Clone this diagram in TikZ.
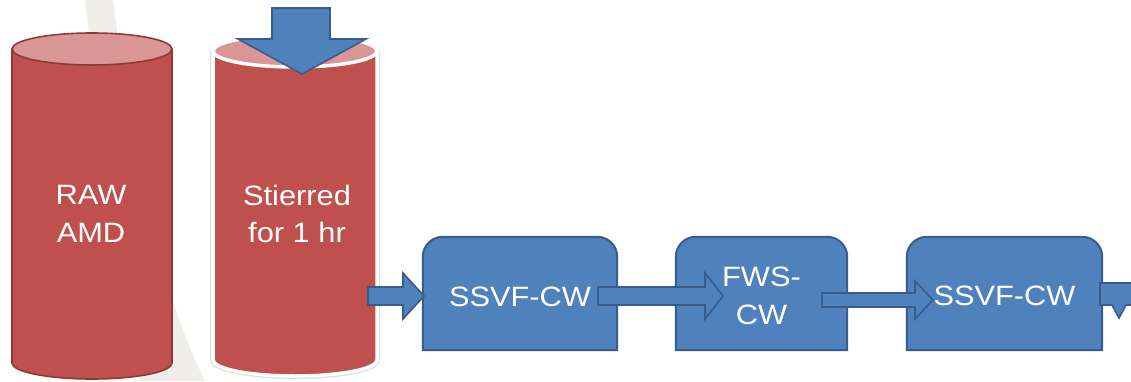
\documentclass[tikz,border=0pt]{standalone}
\usepackage{fontspec}
\setmainfont{Liberation Sans}
\newfontfamily\labfont[FakeStretch=1.1]{Liberation Sans}
\usetikzlibrary{calc}
\definecolor{cylred}{HTML}{C0504D}
\definecolor{cyldark}{HTML}{8C3A37}
\definecolor{cyltop}{HTML}{DA9694}
\definecolor{blfill}{HTML}{4F81BD}
\definecolor{bldraw}{HTML}{385D8A}
\definecolor{band}{HTML}{F0EEEA}
\newcommand\blockarr[6]{%
  \draw[barrow] (#1,#4+#5) -- (#2,#4+#5) -- (#2,#4+#6) -- (#3,#4) -- (#2,#4-#6) -- (#2,#4-#5) -- (#1,#4-#5) -- cycle;}
\newcommand\roundtopbox[1]{%
  \draw[bluesh] let \p1=(#1.north west), \p2=(#1.south east) in
    (\x1,\y2) -- (\x1,\y1-20pt) arc[start angle=180,end angle=90,radius=20pt]
    -- (\x2-20pt,\y1) arc[start angle=90,end angle=0,radius=20pt] -- (\x2,\y2) -- cycle;}
\begin{document}
\begin{tikzpicture}[x=1pt,y=1pt,
  lab/.style={text=white, font=\labfont\fontsize{28}{37.5}\selectfont, align=center, inner sep=0pt},
  boxnode/.style={minimum height=113pt, inner sep=0pt},
  bluesh/.style={fill=blfill, draw=bldraw, line width=2pt, line join=miter},
  barrow/.style={fill=blfill, draw=bldraw, line width=1.6pt, line join=miter}]
\useasboundingbox (0,0) rectangle (1131,381);
\fill[white] (0,0) rectangle (1131,381);
% background band
\fill[band] (85,381) -- (113,381) .. controls (130,250) and (155,100) .. (205,0)
  -- (140,0) .. controls (120,100) and (100,250) .. (85,381) -- cycle;
% cylinder 1
\fill[cylred] (12,332) -- (12,18) arc[start angle=180,end angle=360,x radius=80,y radius=16] -- (172,332) -- cycle;
\draw[cyldark, line width=1.6pt] (12,332) -- (12,18) arc[start angle=180,end angle=360,x radius=80,y radius=16] -- (172,332);
\draw[cyldark, line width=1.6pt, fill=cyltop] (92,332) ellipse [x radius=80, y radius=16];
% cylinder 2
\draw[black!12, line width=6pt] (213,330) -- (213,21) arc[start angle=180,end angle=360,x radius=82,y radius=16] -- (377,330);
\fill[cylred] (213,330) -- (213,21) arc[start angle=180,end angle=360,x radius=82,y radius=16] -- (377,330) -- cycle;
\draw[white, line width=3.5pt] (213,330) -- (213,21) arc[start angle=180,end angle=360,x radius=82,y radius=16] -- (377,330);
\draw[white, line width=3.5pt, fill=cyltop] (295,330) ellipse [x radius=82, y radius=16];
% down arrow
\draw[barrow] (272,373) -- (330,373) -- (330,342) -- (366,342) -- (302,307) -- (238,342) -- (272,342) -- cycle;
% boxes
\node[boxnode, minimum width=194pt] (b1) at (520,87.5) {};
\node[boxnode, minimum width=171pt] (b2) at (761.5,87.5) {};
\node[boxnode, minimum width=195pt] (b3) at (1004.5,87.5) {};
\roundtopbox{b1}
\roundtopbox{b2}
\roundtopbox{b3}
% arrows
\blockarr{368}{403}{424}{85}{9}{23}
\blockarr{598}{705}{723}{85}{9}{23}
\blockarr{822}{915}{933}{81}{7}{19}
\draw[barrow] (1100,98) -- (1133,98) -- (1133,76) -- (1126,76) -- (1119,63) -- (1112,76) -- (1100,76) -- cycle;
% labels
\node[lab] (raw) at (91,167) {RAW\\AMD};
\node[lab] (stir) at (297,167) {Stierred\\for 1 hr};
\node[lab] (t1) at ($(b1.center)+(0,-3.5)$) {SSVF-CW};
\node[lab] (t2) at ($(b2.center)+(0,-2.5)$) {FWS-\\CW};
\node[lab] (t3) at ($(b3.center)+(0,-2.5)$) {SSVF-CW};
\end{tikzpicture}
\end{document}
